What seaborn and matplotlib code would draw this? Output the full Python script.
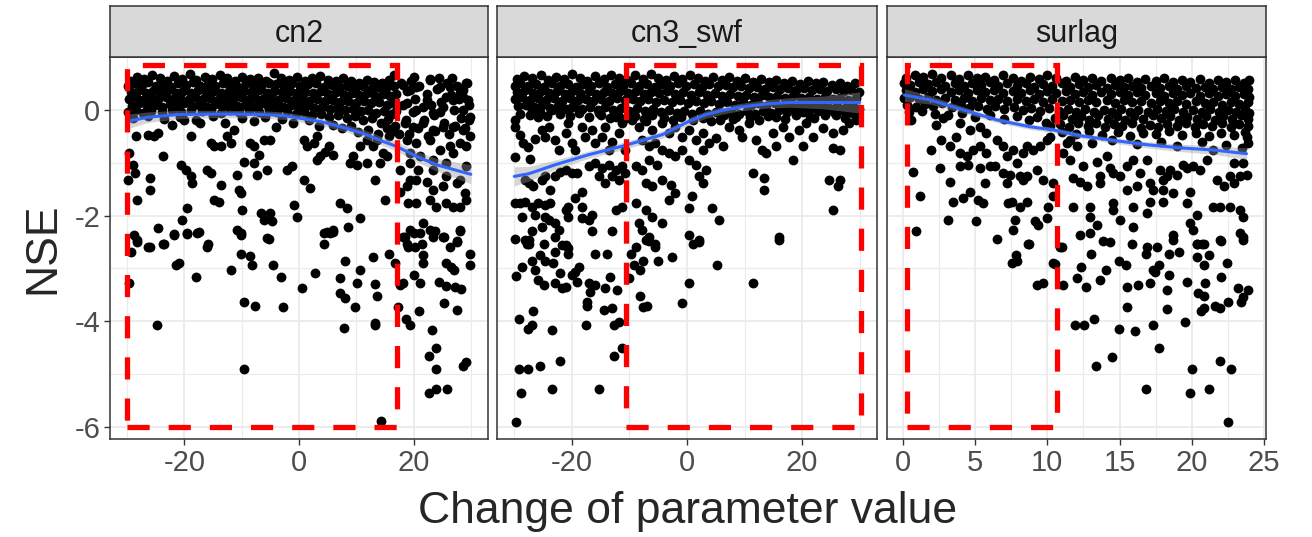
import pandas as pd
import matplotlib
matplotlib.use("Agg")
import matplotlib.pyplot as plt
from matplotlib.patches import Rectangle
import seaborn as sns

# ---- values -----------------------------------------------------------------
panels = ["cn2", "cn3_swf", "surlag"]

# cn2: dense band of runs near the top
cn2_band = [
    (-29.5, 0.55), (-28.2, 0.63), (-27.0, 0.58), (-25.6, 0.66), (-24.3, 0.6), (-23.1, 0.55), (-21.8, 0.64),
    (-20.4, 0.59), (-19.0, 0.67), (-17.9, 0.56), (-16.5, 0.62), (-15.2, 0.58), (-13.8, 0.65), (-12.6, 0.6),
    (-11.1, 0.54), (-9.9, 0.63), (-8.6, 0.58), (-7.2, 0.6), (-5.8, 0.55), (-4.3, 0.69), (-3.1, 0.6),
    (-1.7, 0.57), (-0.4, 0.63), (1.0, 0.55), (2.3, 0.6), (3.7, 0.64), (5.0, 0.57), (6.4, 0.54), (7.7, 0.6),
    (9.1, 0.55), (10.4, 0.5), (11.8, 0.56), (13.1, 0.52), (14.5, 0.5), (15.8, 0.57), (16.6, 0.66),
    (-29.8, 0.45), (-28.8, 0.5), (-27.5, 0.47), (-26.3, 0.52), (-25.0, 0.45), (-23.7, 0.49), (-22.4, 0.44),
    (-21.1, 0.5), (-19.8, 0.47), (-18.5, 0.52), (-17.2, 0.45), (-15.9, 0.49), (-14.6, 0.46), (-13.3, 0.51),
    (-12.0, 0.47), (-10.7, 0.44), (-9.3, 0.5), (-8.0, 0.47), (-6.6, 0.45), (-5.3, 0.51), (-4.0, 0.48),
    (-2.6, 0.46), (-1.2, 0.5), (0.2, 0.45), (1.6, 0.48), (3.0, 0.5), (4.3, 0.44), (5.7, 0.47), (7.1, 0.43),
    (8.4, 0.46), (9.8, 0.42), (11.1, 0.45), (12.5, 0.4), (13.8, 0.44), (15.2, 0.41), (16.5, 0.45),
    (-29.3, 0.33), (-28.0, 0.37), (-26.8, 0.32), (-25.5, 0.36), (-24.1, 0.34), (-22.9, 0.38), (-21.5, 0.32),
    (-20.2, 0.35), (-18.9, 0.31), (-17.6, 0.37), (-16.3, 0.33), (-14.9, 0.36), (-13.6, 0.32), (-12.3, 0.35),
    (-11.0, 0.31), (-9.6, 0.36), (-8.3, 0.33), (-7.0, 0.37), (-5.6, 0.32), (-4.3, 0.35), (-3.0, 0.33),
    (-1.6, 0.36), (-0.3, 0.31), (1.1, 0.34), (2.4, 0.31), (3.8, 0.35), (5.1, 0.3), (6.5, 0.33), (7.8, 0.29),
    (9.2, 0.32), (10.5, 0.28), (11.9, 0.31), (13.2, 0.27), (14.6, 0.3), (15.9, 0.26), (16.9, 0.3),
    (-29.6, 0.2), (-28.4, 0.24), (-27.2, 0.19), (-25.9, 0.23), (-24.6, 0.21), (-23.3, 0.25), (-22.0, 0.2),
    (-20.7, 0.23), (-19.4, 0.19), (-18.1, 0.24), (-16.8, 0.21), (-15.5, 0.23), (-14.1, 0.19), (-12.8, 0.22),
    (-11.5, 0.2), (-10.2, 0.24), (-8.9, 0.19), (-7.6, 0.22), (-6.2, 0.2), (-4.9, 0.23), (-3.6, 0.19),
    (-2.2, 0.22), (-0.9, 0.18), (0.5, 0.21), (1.8, 0.17), (3.2, 0.2), (4.5, 0.16), (5.9, 0.19), (7.2, 0.15),
    (8.6, 0.17), (9.9, 0.13), (11.3, 0.16), (12.6, 0.12), (14.0, 0.14), (15.3, 0.1), (16.6, 0.13),
    (-29.2, 0.08), (-27.9, 0.12), (-26.6, 0.07), (-25.2, 0.1), (-23.9, 0.06), (-22.6, 0.11), (-21.3, 0.08),
    (-20.0, 0.12), (-18.7, 0.07), (-17.4, 0.1), (-16.0, 0.06), (-14.7, 0.11), (-13.4, 0.08), (-12.1, 0.12),
    (-10.8, 0.07), (-9.4, 0.1), (-8.1, 0.06), (-6.8, 0.11), (-5.4, 0.08), (-4.1, 0.1), (-2.8, 0.06),
    (-1.4, 0.09), (-0.1, 0.05), (1.3, 0.08), (2.7, 0.03), (4.0, 0.06), (5.4, 0.01), (6.7, 0.04), (8.1, 0.0),
    (9.4, 0.02), (10.8, -0.03), (12.1, 0.0), (13.5, -0.06), (14.8, -0.03), (16.2, -0.08), (17.0, -0.02),
    (-29.8, -0.05), (-28.5, 0.0), (-27.3, -0.06), (-25.8, -0.02), (-24.0, -0.04), (-22.2, 0.0), (-20.6, -0.05),
    (-18.9, -0.01), (-17.0, -0.03), (-15.3, 0.0), (-13.7, -0.06), (-12.0, -0.01), (-10.4, -0.04), (-8.7, 0.0),
    (-7.0, -0.05), (-5.3, -0.01), (-3.8, -0.04), (-2.1, -0.02), (-0.6, -0.07), (0.9, -0.04), (2.3, -0.1),
    (3.8, -0.07), (5.2, -0.13), (6.8, -0.1), (8.3, -0.16), (9.7, -0.12), (11.2, -0.2), (12.8, -0.15),
    (14.3, -0.24), (15.6, -0.18), (16.8, -0.3),
    (-29.0, -0.15), (-26.4, -0.12), (-23.5, -0.18), (-20.8, -0.14), (-18.0, -0.2), (-15.1, -0.12),
    (-12.9, -0.25), (-10.0, -0.15), (-7.8, -0.22), (-5.9, -0.13), (-3.0, -0.18), (-1.0, -0.24), (1.7, -0.2),
    (3.5, -0.3), (5.9, -0.28), (7.5, -0.35), (9.0, -0.3), (10.3, -0.42), (12.0, -0.38), (13.8, -0.45),
    (15.8, -0.5), (16.4, -0.4),
    (17.8, 0.5), (18.9, 0.35), (19.5, 0.55), (20.3, 0.2), (21.0, 0.45), (21.6, 0.05), (22.4, 0.3),
    (22.9, 0.58), (23.5, -0.1), (24.1, 0.4), (24.8, 0.15), (25.3, -0.25), (25.9, 0.5), (26.5, 0.28),
    (27.0, 0.0), (27.6, 0.45), (28.2, -0.15), (28.7, 0.25), (29.3, 0.5), (29.7, 0.1), (18.2, 0.1),
    (18.6, -0.2), (19.9, -0.05), (20.7, -0.35), (21.9, -0.2), (23.0, 0.1), (23.8, -0.4), (24.6, -0.05),
    (25.6, 0.25), (26.2, -0.45), (27.2, -0.3), (28.0, 0.2), (29.0, -0.35), (29.6, -0.2), (17.5, -0.45),
    (19.2, -0.45), (22.6, -0.5), (26.8, 0.6), (28.6, 0.38), (20.0, 0.62), (24.4, 0.6),
]

# cn2: runs spread below the band
cn2_scatter = [
    (-29.6, -0.82), (-28.5, -0.5), (-29.0, -1.04), (-28.6, -1.2), (-29.9, -1.33), (-28.2, -1.7),
    (-28.8, -2.37), (-28.2, -2.46), (-26.4, -0.47), (-25.3, -0.5), (-24.7, -0.44), (-23.8, -0.88),
    (-26.1, -1.29), (-26.0, -1.52), (-24.7, -2.24), (-26.4, -2.59), (-23.5, -2.53), (-21.8, -2.37),
    (-20.4, -2.08), (-19.5, -1.86), (-20.6, -1.04), (-19.7, -1.14), (-18.9, -1.26), (-18.6, -1.39),
    (-19.5, -2.34), (-17.8, -2.34), (-16.0, -2.59), (-22.1, -0.28), (-20.1, -0.19), (-18.9, -0.5),
    (-17.2, -0.25), (-15.4, -0.63), (-14.8, -0.69), (-13.7, -0.69), (-16.0, -1.14), (-15.4, -1.2),
    (-14.8, -1.7), (-13.9, -1.74), (-13.7, -1.42), (-12.5, -0.5), (-11.4, -0.38), (-11.9, -0.63),
    (-10.8, -1.23), (-10.5, -1.52), (-10.2, -1.58), (-9.9, -1.89), (-10.8, -2.27), (-10.2, -2.34),
    (-9.6, -0.98), (-8.5, -0.63), (-7.9, -0.69), (-7.0, -0.85), (-6.1, -0.57), (-5.0, -0.57), (-4.1, -0.32),
    (-7.9, -1.01), (-7.3, -1.23), (-5.6, -1.14), (-6.7, -1.96), (-6.1, -2.08), (-5.0, -1.96), (-4.7, -2.1),
    (-5.6, -2.43), (-2.1, -1.14), (-1.2, -1.07), (-0.9, -1.8), (-0.35, -2.02), (0.8, -1.33), (2.0, -1.48),
    (0.8, -0.57), (1.4, -0.69), (2.6, -0.63), (3.1, -0.5), (3.7, -0.88), (4.6, -0.79), (5.2, -0.69),
    (6.0, -0.85), (3.1, -0.95), (4.3, -2.34), (5.4, -2.34), (6.0, -2.27), (7.2, -1.77), (8.3, -1.86),
    (8.6, -2.21), (10.7, -2.05), (8.9, -1.01), (9.5, -0.88), (10.1, -1.04), (11.8, -1.01), (13.3, -1.33),
    (14.1, -1.01), (14.7, -0.82), (15.3, -0.88), (10.7, -0.69), (13.0, -0.69), (15.0, -1.7), (15.3, -0.35),
    (13.6, -0.57), (11.8, -0.57),
    (18.2, 0.47), (19.4, 0.38), (20.5, 0.44), (22.8, 0.57), (24.6, 0.44), (26.3, 0.44), (28.1, 0.32),
    (29.2, 0.5), (29.5, 0.19), (29.8, -0.13), (18.8, 0.13), (20.5, 0.0), (22.3, 0.19), (23.4, -0.06),
    (25.2, 0.06), (26.9, 0.19), (28.6, 0.0), (18.5, -0.25), (19.9, -0.32), (21.7, -0.25), (23.4, -0.38),
    (25.2, -0.32), (26.9, -0.32), (28.6, -0.38), (29.8, -0.5), (18.8, -0.57), (20.5, -0.63), (22.8, -0.57),
    (24.6, -0.76), (26.3, -0.69), (28.1, -0.63), (29.2, -0.69), (19.4, -0.82), (21.1, -0.88), (23.4, -0.95),
    (25.7, -1.01), (26.9, -0.82), (29.2, -1.07), (17.6, -1.14), (19.4, -1.01), (20.8, -1.14), (23.4, -1.14),
    (25.7, -1.26), (28.1, -1.33), (19.4, -1.33), (20.5, -1.33), (22.3, -1.36), (23.4, -1.52), (25.2, -1.45),
    (27.5, -1.39), (28.9, -1.58), (29.2, -1.7), (28.1, -1.83), (18.8, -1.45), (17.6, -1.55), (20.5, -1.77),
    (19.1, -1.77), (22.8, -1.7), (24.0, -1.83), (25.7, -1.77), (26.9, -1.83), (21.7, -2.15), (22.8, -2.27),
    (19.4, -2.27), (21.1, -2.34), (23.4, -2.4), (25.2, -2.4), (27.5, -2.49), (28.1, -2.27), (18.2, -2.4),
    (18.8, -2.53), (20.2, -2.59),
    (-28.2, -2.51), (-26.1, -2.59), (-23.8, -2.54), (-21.8, -2.35), (-19.5, -2.35), (-17.4, -2.32),
    (-15.9, -2.54), (-29.4, -2.7), (-29.6, -3.27), (-24.8, -4.08), (-21.5, -2.94), (-20.9, -2.89),
    (-18.0, -3.16), (-11.8, -3.03), (-10.2, -2.73), (-8.5, -2.76), (-8.2, -2.94), (-10.2, -2.37),
    (-5.3, -2.44), (-4.5, -2.94), (-3.2, -3.16), (-9.6, -3.64), (-7.6, -3.71), (-2.8, -3.74), (-9.6, -4.91),
    (0.5, -3.38), (2.8, -3.09), (4.3, -2.54), (4.9, -2.32), (6.0, -2.32), (8.1, -2.87), (7.1, -3.19),
    (7.1, -3.46), (8.1, -3.56), (7.8, -4.13), (10.6, -3.03), (10.2, -3.28), (9.7, -3.74), (12.9, -2.79),
    (13.3, -3.29), (13.7, -3.52), (13.3, -4.03), (13.3, -4.07), (14.3, -5.89), (15.7, -2.73), (16.8, -2.89),
    (17.6, -3.31), (18.2, -3.28), (17.3, -3.74), (18.7, -3.95), (19.4, -4.07), (18.5, -2.41), (19.1, -2.59),
    (20.0, -2.34), (21.4, -2.54), (21.7, -2.75), (21.6, -2.89), (20.0, -3.12), (21.1, -3.27), (21.0, -3.8),
    (23.2, -4.17), (23.9, -4.51), (22.7, -4.66), (23.9, -4.91), (22.7, -5.35), (23.9, -5.29), (25.9, -5.29),
    (23.7, -2.3), (25.4, -2.41), (26.3, -2.59), (27.6, -2.51), (28.1, -2.3), (29.8, -2.73), (29.8, -2.94),
    (25.6, -2.9), (26.6, -2.98), (27.0, -3.04), (24.5, -3.25), (25.6, -3.33), (27.3, -3.35), (28.3, -3.4),
    (25.3, -3.65), (27.6, -3.78), (28.7, -4.85), (29.2, -4.77),
]

cn3_band = [
    (-29.6, 0.58), (-28.3, 0.64), (-26.9, 0.6), (-25.4, 0.66), (-24.1, 0.57), (-22.8, 0.63), (-21.3, 0.59),
    (-20.0, 0.67), (-18.6, 0.6), (-17.3, 0.55), (-15.9, 0.64), (-14.5, 0.58), (-13.2, 0.66), (-11.8, 0.61),
    (-10.4, 0.56), (-9.1, 0.65), (-7.7, 0.59), (-6.3, 0.68), (-5.0, 0.6), (-3.6, 0.56), (-2.2, 0.64),
    (-0.9, 0.58), (0.5, 0.66), (1.9, 0.6), (3.2, 0.55), (4.6, 0.63), (6.0, 0.57), (7.3, 0.62), (8.7, 0.55),
    (10.1, 0.6), (11.4, 0.53), (12.8, 0.58), (14.2, 0.52), (15.5, 0.57), (16.9, 0.5), (18.3, 0.55),
    (19.6, 0.49), (21.0, 0.54), (22.4, 0.5), (23.7, 0.53), (25.1, 0.47), (26.5, 0.51), (27.8, 0.46), (29.2, 0.5),
    (-29.9, 0.45), (-29.0, 0.5), (-27.6, 0.46), (-26.2, 0.49), (-24.8, 0.44), (-23.5, 0.5), (-22.1, 0.45),
    (-20.7, 0.48), (-19.3, 0.43), (-18.0, 0.49), (-16.6, 0.46), (-15.2, 0.5), (-13.9, 0.44), (-12.5, 0.48),
    (-11.1, 0.45), (-9.8, 0.5), (-8.4, 0.46), (-7.0, 0.49), (-5.6, 0.44), (-4.3, 0.48), (-2.9, 0.45),
    (-1.5, 0.5), (-0.2, 0.46), (1.2, 0.48), (2.6, 0.44), (3.9, 0.49), (5.3, 0.45), (6.7, 0.47), (8.0, 0.43),
    (9.4, 0.46), (10.8, 0.41), (12.1, 0.44), (13.5, 0.4), (14.9, 0.43), (16.2, 0.39), (17.6, 0.42),
    (19.0, 0.38), (20.3, 0.41), (21.7, 0.37), (23.1, 0.4), (24.4, 0.36), (25.8, 0.39), (27.2, 0.35),
    (28.5, 0.38), (29.8, 0.34),
    (-29.5, 0.33), (-28.1, 0.37), (-26.7, 0.32), (-25.3, 0.36), (-24.0, 0.31), (-22.6, 0.35), (-21.2, 0.3),
    (-19.9, 0.36), (-18.5, 0.32), (-17.1, 0.35), (-15.8, 0.3), (-14.4, 0.34), (-13.0, 0.31), (-11.6, 0.36),
    (-10.3, 0.32), (-8.9, 0.35), (-7.5, 0.3), (-6.2, 0.34), (-4.8, 0.31), (-3.4, 0.35), (-2.1, 0.3),
    (-0.7, 0.33), (0.7, 0.29), (2.0, 0.33), (3.4, 0.28), (4.8, 0.31), (6.1, 0.27), (7.5, 0.3), (8.9, 0.26),
    (10.2, 0.29), (11.6, 0.25), (13.0, 0.28), (14.3, 0.24), (15.7, 0.27), (17.1, 0.23), (18.4, 0.26),
    (19.8, 0.22), (21.2, 0.25), (22.5, 0.21), (23.9, 0.24), (25.3, 0.2), (26.6, 0.23), (28.0, 0.19), (29.4, 0.22),
    (-29.8, 0.2), (-28.6, 0.24), (-27.2, 0.19), (-25.8, 0.23), (-24.5, 0.18), (-23.1, 0.22), (-21.7, 0.17),
    (-20.4, 0.23), (-19.0, 0.19), (-17.6, 0.21), (-16.3, 0.16), (-14.9, 0.2), (-13.5, 0.17), (-12.2, 0.22),
    (-10.8, 0.18), (-9.4, 0.21), (-8.1, 0.16), (-6.7, 0.2), (-5.3, 0.15), (-4.0, 0.19), (-2.6, 0.14),
    (-1.2, 0.18), (0.1, 0.13), (1.5, 0.17), (2.9, 0.12), (4.2, 0.16), (5.6, 0.11), (7.0, 0.15), (8.3, 0.1),
    (9.7, 0.14), (11.1, 0.09), (12.4, 0.13), (13.8, 0.08), (15.2, 0.12), (16.5, 0.07), (17.9, 0.11),
    (19.3, 0.06), (20.6, 0.1), (22.0, 0.05), (23.4, 0.09), (24.7, 0.04), (26.1, 0.08), (27.5, 0.03),
    (28.8, 0.07), (29.9, 0.02),
    (-29.4, 0.07), (-28.0, 0.1), (-26.5, 0.05), (-25.1, 0.09), (-23.8, 0.03), (-22.4, 0.08), (-21.0, 0.02),
    (-19.6, 0.07), (-18.3, 0.01), (-16.9, 0.06), (-15.5, 0.0), (-14.2, 0.05), (-12.8, -0.01), (-11.4, 0.04),
    (-10.0, -0.02), (-8.7, 0.03), (-7.3, -0.03), (-5.9, 0.02), (-4.6, -0.04), (-3.2, 0.0), (-1.8, -0.06),
    (-0.5, -0.02), (0.9, -0.07), (2.3, -0.03), (3.6, -0.08), (5.0, -0.04), (6.4, -0.1), (7.7, -0.05),
    (9.1, -0.08), (10.5, -0.03), (11.8, -0.07), (13.2, -0.02), (14.6, -0.06), (16.0, -0.01), (17.3, -0.05),
    (18.7, 0.0), (20.1, -0.04), (21.4, 0.01), (22.8, -0.03), (24.2, 0.0), (25.5, -0.05), (26.9, -0.01),
    (28.3, -0.04), (29.6, 0.0),
    (-29.0, -0.08), (-27.3, -0.1), (-25.6, -0.05), (-24.3, -0.12), (-22.0, -0.08), (-20.3, -0.11),
    (-18.8, -0.06), (-17.0, -0.14), (-15.0, -0.1), (-13.4, -0.16), (-11.9, -0.09), (-10.6, -0.15),
    (-9.0, -0.12), (-7.5, -0.18), (-6.0, -0.1), (-4.0, -0.16), (-2.5, -0.2), (-1.0, -0.14), (1.0, -0.2),
    (2.8, -0.16), (4.2, -0.22), (5.8, -0.2), (8.0, -0.18), (11.0, -0.14), (12.5, -0.2), (14.0, -0.12),
    (17.0, -0.18), (19.0, -0.1), (22.0, -0.15), (24.0, -0.1), (27.5, -0.16), (29.0, -0.08),
]

cn3_scatter = [
    (-29.8, -0.19), (-29.9, -0.33), (-29.9, -0.9), (-29.0, -0.47), (-27.6, -0.71), (-27.2, -0.93),
    (-28.4, -0.63), (-26.4, -0.56), (-25.8, -0.13), (-25.2, -0.38), (-24.6, -0.51), (-24.0, -0.32),
    (-22.9, -0.57), (-22.3, -0.76), (-21.1, -0.44), (-20.6, -0.25), (-20.0, -0.63), (-19.4, -0.76),
    (-18.2, -0.32), (-17.7, -0.51), (-16.5, -0.38), (-15.9, -0.63), (-14.8, -0.51), (-14.2, -0.32),
    (-13.6, -0.76), (-13.0, -0.6), (-11.8, -0.44), (-11.3, -0.25), (-10.7, -0.76), (-26.9, 0.0), (-23.5, 0.0),
    (-20.0, 0.06), (-15.3, -0.06), (-12.4, -0.13),
    (-27.5, -1.39), (-28.1, -1.33), (-26.7, -1.45), (-25.2, -1.33), (-24.6, -1.26), (-23.8, -1.52),
    (-22.9, -1.26), (-22.0, -1.17), (-21.1, -1.14), (-20.0, -1.2), (-19.1, -1.2), (-18.2, -1.55),
    (-17.1, -1.07), (-15.9, -1.01), (-14.8, -1.1), (-13.6, -1.04), (-12.4, -1.14), (-11.3, -1.07),
    (-15.3, -1.26), (-14.2, -1.39), (-13.0, -1.26), (-11.8, -1.33), (-10.7, -1.2),
    (-29.8, -1.77), (-29.0, -1.77), (-28.1, -1.74), (-26.9, -1.83), (-25.8, -1.77), (-24.6, -1.8),
    (-23.8, -1.77), (-20.6, -1.83), (-19.4, -1.67), (-18.2, -1.83), (-28.7, -2.02), (-26.4, -1.99),
    (-24.6, -2.02), (-22.9, -2.15), (-22.3, -2.27), (-25.2, -2.21), (-21.1, -1.89), (-20.6, -2.02),
    (-18.2, -2.05), (-16.5, -1.99), (-12.4, -1.89), (-11.3, -1.83), (-16.5, -2.3), (-17.1, -2.08),
    (-13.0, -2.3), (-24.0, -2.08), (-29.9, -2.45), (-28.1, -2.46), (-27.5, -2.53), (-24.9, -2.53),
    (-22.9, -2.4), (-21.7, -2.56), (-20.6, -2.62), (-26.9, -2.3),
    (-9.5, -0.19), (-8.4, -0.32), (-7.2, -0.22), (-6.0, -0.38), (-4.3, -0.25), (-3.1, -0.44), (-2.0, -0.32),
    (-0.8, -0.51), (0.3, -0.38), (1.5, -0.57), (2.7, -0.44), (3.8, -0.63), (5.0, -0.54), (6.2, -0.69),
    (-7.8, -0.57), (-6.6, -0.69), (-5.5, -0.63), (-4.3, -0.76), (-3.1, -0.82), (-2.0, -0.88), (-0.8, -0.76),
    (0.3, -0.95), (1.5, -1.04), (3.3, -1.14), (-8.9, -1.07), (-7.8, -1.14), (-6.6, -0.95), (-5.2, -1.04),
    (-7.2, -1.39), (-6.0, -1.45), (-4.3, -1.33), (-2.8, -1.42), (-2.0, -1.58), (-3.1, -1.7), (2.1, -1.26),
    (2.7, -1.39), (0.9, -1.64), (0.3, -1.86), (-8.9, -1.77), (-7.2, -1.89), (-6.0, -2.02), (-4.3, -2.15),
    (-8.4, -2.15), (-7.8, -2.27), (-6.6, -2.4), (-5.5, -2.53), (0.3, -2.37), (2.1, -2.46), (4.4, -1.86),
    (5.6, -2.08), (2.7, -0.76),
    (7.3, -0.32), (9.1, -0.38), (10.8, -0.25), (12.0, -0.57), (13.1, -0.76), (14.9, -0.44), (16.6, -0.32),
    (17.8, -0.51), (18.4, -0.95), (19.5, -0.38), (20.7, -0.25), (21.8, -0.51), (23.6, -0.35), (25.3, -0.44),
    (27.1, -0.38), (28.2, -0.25), (29.4, -0.19), (25.3, -0.73), (26.5, -0.76), (15.4, -0.69), (13.7, -0.82),
    (20.1, -0.69), (9.6, -0.51), (11.4, -1.2), (13.4, -1.29), (13.4, -1.52), (16.0, -2.4), (24.7, -1.33),
    (26.5, -1.33), (26.2, -1.45), (25.3, -1.89), (6.2, -0.06), (8.5, -0.13), (15.4, -0.13), (21.3, -0.13),
    (25.9, -0.09),
    (-27.8, -2.54), (-27.5, -2.46), (-21.1, -2.56), (-20.6, -2.73), (-25.5, -2.75), (-24.6, -2.87),
    (-23.2, -2.9), (-22.9, -2.7), (-26.9, -2.87), (-26.4, -3.03), (-28.7, -2.97), (-29.7, -3.14),
    (-22.0, -3.09), (-25.8, -3.22), (-24.9, -3.31), (-22.9, -3.28), (-21.1, -3.35), (-21.7, -3.38),
    (-20.0, -3.13), (-19.4, -3.06), (-18.8, -2.97), (-19.1, -3.25), (-15.9, -2.73), (-13.9, -2.73),
    (-17.1, -3.28), (-15.9, -3.31), (-16.8, -3.44), (-17.4, -3.63), (-17.4, -3.72), (-14.2, -3.38),
    (-14.5, -3.78), (-13.0, -3.75), (-13.3, -3.16), (-12.1, -3.41), (-26.7, -3.8), (-29.2, -3.96),
    (-27.6, -4.14), (-26.9, -4.07), (-23.5, -4.17), (-17.5, -4.08), (-12.7, -4.07), (-11.8, -4.01),
    (-11.3, -4.51), (-12.7, -4.66), (-29.2, -4.91), (-27.6, -4.91), (-25.5, -4.85), (-22.1, -4.75),
    (-28.9, -5.35), (-23.5, -5.28), (-15.2, -5.28), (-29.7, -5.9), (-10.1, -3.19), (-9.8, -2.73),
    (-9.2, -2.94), (-8.1, -3.03), (-7.6, -2.87), (-8.9, -2.59), (-7.2, -2.46), (-6.6, -2.49), (-5.5, -2.59),
    (-5.0, -2.87), (-2.6, -2.78), (-8.2, -3.52), (-7.6, -3.74), (-6.9, -3.71), (-0.8, -3.65), (0.3, -3.28),
    (5.2, -2.94), (1.0, -2.54), (2.1, -2.51), (11.4, -3.28), (15.9, -2.46),
]

surlag_band = [
    (0.2, 0.6), (0.8, 0.66), (1.4, 0.62), (2.0, 0.68), (2.6, 0.6), (3.3, 0.65), (3.9, 0.58), (4.5, 0.66),
    (5.1, 0.6), (5.7, 0.63), (6.3, 0.57), (6.9, 0.65), (7.6, 0.6), (8.2, 0.55), (8.8, 0.63), (9.4, 0.58),
    (10.0, 0.66), (10.6, 0.6), (11.3, 0.55), (11.9, 0.62), (12.5, 0.57), (13.1, 0.6), (13.7, 0.54),
    (14.4, 0.61), (15.0, 0.56), (15.6, 0.6), (16.2, 0.53), (16.8, 0.59), (17.5, 0.55), (18.1, 0.6),
    (18.7, 0.52), (19.3, 0.57), (19.9, 0.53), (20.6, 0.58), (21.2, 0.5), (21.8, 0.56), (22.4, 0.52),
    (23.0, 0.57), (23.6, 0.5), (24.0, 0.56),
    (0.1, 0.5), (0.5, 0.47), (1.1, 0.52), (1.7, 0.48), (2.3, 0.53), (2.9, 0.46), (3.6, 0.5), (4.2, 0.45),
    (4.8, 0.51), (5.4, 0.47), (6.0, 0.52), (6.6, 0.45), (7.2, 0.5), (7.9, 0.46), (8.5, 0.5), (9.1, 0.44),
    (9.7, 0.49), (10.3, 0.45), (11.0, 0.5), (11.6, 0.44), (12.2, 0.48), (12.8, 0.43), (13.4, 0.47),
    (14.1, 0.42), (14.7, 0.47), (15.3, 0.43), (15.9, 0.46), (16.5, 0.41), (17.2, 0.46), (17.8, 0.42),
    (18.4, 0.45), (19.0, 0.4), (19.6, 0.45), (20.3, 0.41), (20.9, 0.44), (21.5, 0.39), (22.1, 0.43),
    (22.7, 0.4), (23.3, 0.44), (23.9, 0.4),
    (0.2, 0.38), (0.8, 0.34), (1.4, 0.39), (2.0, 0.35), (2.6, 0.4), (3.3, 0.33), (3.9, 0.37), (4.5, 0.32),
    (5.1, 0.38), (5.7, 0.33), (6.3, 0.37), (6.9, 0.31), (7.6, 0.36), (8.2, 0.32), (8.8, 0.37), (9.4, 0.3),
    (10.0, 0.35), (10.6, 0.31), (11.3, 0.36), (11.9, 0.3), (12.5, 0.34), (13.1, 0.29), (13.7, 0.34),
    (14.4, 0.3), (15.0, 0.33), (15.6, 0.28), (16.2, 0.33), (16.8, 0.29), (17.5, 0.32), (18.1, 0.27),
    (18.7, 0.32), (19.3, 0.28), (19.9, 0.31), (20.6, 0.26), (21.2, 0.31), (21.8, 0.27), (22.4, 0.3),
    (23.0, 0.26), (23.6, 0.3), (24.0, 0.25),
    (0.1, 0.22), (0.5, 0.25), (1.1, 0.2), (1.7, 0.24), (2.3, 0.19), (2.9, 0.23), (3.6, 0.18), (4.2, 0.22),
    (4.8, 0.17), (5.4, 0.23), (6.0, 0.18), (6.6, 0.21), (7.2, 0.16), (7.9, 0.21), (8.5, 0.17), (9.1, 0.2),
    (9.7, 0.15), (10.3, 0.2), (11.0, 0.16), (11.6, 0.19), (12.2, 0.14), (12.8, 0.19), (13.4, 0.15),
    (14.1, 0.18), (14.7, 0.13), (15.3, 0.18), (15.9, 0.14), (16.5, 0.17), (17.2, 0.12), (17.8, 0.17),
    (18.4, 0.13), (19.0, 0.16), (19.6, 0.11), (20.3, 0.16), (20.9, 0.12), (21.5, 0.15), (22.1, 0.1),
    (22.7, 0.15), (23.3, 0.11), (23.9, 0.14),
    (0.3, 0.1), (0.9, 0.06), (1.5, 0.11), (2.1, 0.07), (2.7, 0.12), (3.4, 0.05), (4.0, 0.09), (4.6, 0.04),
    (5.2, 0.08), (5.8, 0.02), (6.4, 0.07), (7.0, 0.01), (7.7, 0.05), (8.3, 0.0), (8.9, 0.04), (9.5, -0.02),
    (10.1, 0.03), (10.8, -0.03), (11.4, 0.02), (12.0, -0.04), (12.6, 0.01), (13.2, -0.05), (13.9, 0.0),
    (14.5, -0.04), (15.1, 0.01), (15.7, -0.05), (16.3, 0.0), (17.0, -0.04), (17.6, 0.02), (18.2, -0.03),
    (18.8, 0.01), (19.4, -0.05), (20.1, 0.0), (20.7, -0.04), (21.3, 0.01), (21.9, -0.05), (22.5, 0.0),
    (23.1, -0.04), (23.7, 0.01), (24.0, -0.06),
    (0.4, -0.05), (1.3, -0.02), (2.2, -0.08), (3.1, -0.1), (4.1, -0.06), (5.0, -0.14), (6.0, -0.1),
    (7.0, -0.18), (7.9, -0.12), (8.7, -0.2), (9.3, -0.13), (9.9, -0.24), (10.5, -0.15), (11.1, -0.1),
    (11.7, -0.18), (12.3, -0.12), (12.9, -0.2), (13.5, -0.1), (14.2, -0.17), (14.8, -0.11), (15.4, -0.19),
    (16.0, -0.12), (16.6, -0.18), (17.3, -0.1), (17.9, -0.16), (18.5, -0.12), (19.1, -0.2), (19.7, -0.13),
    (20.4, -0.18), (21.0, -0.11), (21.6, -0.19), (22.2, -0.12), (22.8, -0.17), (23.4, -0.1), (23.9, -0.18),
    (10.2, -0.3), (10.9, -0.26), (11.5, -0.32), (12.1, -0.25), (12.8, -0.3), (13.4, -0.24), (14.0, -0.33),
    (14.6, -0.27), (15.2, -0.31), (15.9, -0.25), (16.5, -0.34), (17.1, -0.28), (17.7, -0.32), (18.3, -0.26),
    (19.0, -0.3), (19.6, -0.24), (20.2, -0.33), (20.8, -0.27), (21.4, -0.31), (22.1, -0.25), (22.7, -0.32),
    (23.3, -0.27), (23.9, -0.3),
    (11.0, -0.42), (12.0, -0.45), (12.9, -0.4), (13.8, -0.47), (14.9, -0.42), (15.7, -0.5), (16.6, -0.43),
    (17.5, -0.46), (18.4, -0.4), (19.3, -0.48), (20.3, -0.43), (21.2, -0.5), (22.0, -0.44), (22.9, -0.47),
    (23.7, -0.42), (11.6, -0.58), (13.1, -0.62), (14.5, -0.57), (16.2, -0.65), (17.9, -0.6), (19.0, -0.68),
    (20.7, -0.6), (22.4, -0.66), (23.5, -0.72), (23.9, -0.62),
]

surlag_scatter = [
    (0.58, -0.19), (0.69, -1.17), (1.16, -1.64), (0.93, -2.3), (1.97, -0.76), (2.31, -0.28), (2.78, -0.16),
    (2.66, -0.57), (3.24, -0.69), (3.7, -0.51), (3.93, -0.82), (4.4, -0.88), (4.86, -0.76), (5.32, -0.69),
    (5.78, -0.82), (3.93, -0.25), (4.63, -0.38), (5.32, -0.32), (5.78, -0.44), (6.48, -0.57), (6.94, -0.69),
    (7.17, -0.88), (7.63, -0.76), (7.87, -1.01), (8.33, -0.82), (8.56, -0.69), (9.02, -0.76), (9.48, -0.69),
    (9.95, -0.57), (10.18, -0.51), (2.54, -1.1), (3.24, -1.36), (3.93, -1.07), (4.51, -1.04), (5.32, -1.1),
    (6.01, -1.07), (6.36, -1.07), (6.94, -1.2), (7.4, -1.23), (8.1, -1.26), (8.56, -1.26), (9.25, -1.14),
    (9.72, -1.33), (10.41, -1.39), (5.67, -1.39), (7.17, -1.39), (8.33, -1.33), (3.47, -1.74), (4.16, -1.67),
    (4.63, -1.55), (5.2, -1.7), (5.55, -1.77), (7.29, -1.77), (7.52, -1.74), (8.1, -1.83), (8.56, -1.74),
    (10.06, -1.83), (10.41, -1.64), (3.12, -2.08), (5.09, -2.11), (7.75, -2.08), (7.63, -2.27), (9.14, -2.11),
    (9.37, -2.18), (9.95, -2.05), (6.48, -2.45), (8.67, -2.53), (10.87, -2.59),
    (11.1, -0.82), (11.57, -0.95), (12.03, -0.69), (11.33, -0.63), (12.49, -1.07), (11.8, -1.29),
    (12.26, -1.36), (12.72, -1.45), (13.42, -0.98), (13.65, -1.26), (14.11, -0.88), (14.34, -1.1),
    (14.57, -1.2), (15.04, -1.26), (15.5, -1.07), (15.96, -0.95), (16.42, -1.2), (16.89, -0.95),
    (17.12, -1.39), (17.35, -1.52), (17.81, -1.14), (18.04, -1.33), (18.27, -1.26), (18.51, -1.14),
    (18.97, -1.23), (19.43, -1.04), (19.66, -1.1), (20.12, -1.07), (20.59, -1.14), (21.05, -0.95),
    (21.51, -0.76), (21.74, -1.33), (22.21, -1.45), (22.67, -1.26), (22.9, -1.39), (23.36, -1.26),
    (23.83, -1.23), (22.9, -1.01), (23.59, -1.01), (23.83, -0.51), (13.65, -1.39), (15.5, -1.52),
    (16.19, -1.45), (18.04, -1.52), (18.74, -1.58), (19.89, -1.55), (22.67, -1.83), (11.8, -1.83),
    (12.95, -1.83), (14.57, -1.77), (14.57, -1.89), (15.96, -1.83), (17.12, -1.74), (18.04, -1.74),
    (19.66, -1.77), (21.51, -1.83), (21.98, -1.83), (23.36, -1.89), (23.59, -2.02), (12.95, -2.02),
    (13.42, -2.18), (15.04, -2.08), (16.89, -1.96), (15.96, -2.21), (18.74, -2.37), (19.89, -2.15),
    (20.36, -1.99), (20.12, -2.27), (21.98, -2.46), (23.36, -2.34), (23.59, -2.4), (12.26, -2.37),
    (12.95, -2.34), (13.88, -2.49), (14.34, -2.51), (16.89, -2.59), (17.58, -2.59), (18.74, -2.46),
    (20.36, -2.53), (20.82, -2.53),
    (8.72, -2.54), (10.99, -2.6), (7.82, -2.75), (7.52, -2.9), (7.87, -2.87), (10.41, -2.9), (13.0, -2.73),
    (12.33, -2.97), (12.03, -3.19), (12.68, -3.35), (13.65, -3.22), (14.06, -3.03), (15.85, -2.54),
    (16.84, -2.73), (18.46, -2.73), (19.15, -2.7), (20.36, -2.78), (21.17, -2.75), (20.82, -2.94),
    (20.36, -2.54), (20.7, -2.54), (22.02, -2.49), (23.59, -2.46), (22.44, -2.89), (14.99, -2.87),
    (15.45, -2.94), (17.47, -3.06), (17.77, -2.94), (18.46, -3.13), (17.35, -3.03), (22.02, -3.16),
    (15.5, -3.35), (16.31, -3.31), (17.12, -3.28), (18.32, -3.41), (19.71, -3.26), (20.93, -3.28),
    (20.47, -3.47), (20.87, -3.52), (23.18, -3.38), (23.87, -3.41), (23.55, -3.55), (23.41, -3.64),
    (22.51, -3.64), (21.63, -3.71), (21.98, -3.75), (20.63, -3.8), (20.82, -3.75), (18.32, -3.77),
    (15.5, -3.74), (9.25, -3.31), (9.72, -3.28), (10.53, -2.92), (11.1, -3.31), (11.91, -4.08),
    (12.54, -4.08), (13.25, -3.96), (14.99, -4.15), (16.08, -4.18), (17.3, -4.08), (19.55, -4.02),
    (17.77, -4.51), (14.5, -4.67), (13.35, -4.85), (20.01, -4.91), (21.93, -4.75), (22.72, -4.91),
    (16.84, -5.28), (19.89, -5.35), (21.17, -5.28), (22.51, -5.9),
]

# loess fits (blue line) and half-width of their grey bands
cn2_fit_x = [-30, -26.4, -21.2, -16, -11.4, -6, -2.7, 0.2, 3.7, 8.3, 11.8, 14.7, 17, 20.5, 24, 30]
cn2_fit_y = [-0.22, -0.14, -0.09, -0.08, -0.08, -0.09, -0.11, -0.16, -0.22, -0.35, -0.47, -0.6, -0.69,
             -0.88, -1.04, -1.22]
cn2_fit_se = [0.14, 0.1, 0.08, 0.07, 0.07, 0.07, 0.07, 0.07, 0.07, 0.07, 0.08, 0.08, 0.09, 0.1, 0.12, 0.18]

cn3_fit_x = [-30, -27.5, -22.9, -17.1, -11.3, -8.4, -4.3, 0.3, 3.3, 6.2, 9.1, 13.7, 17.8, 23.6, 30]
cn3_fit_y = [-1.26, -1.21, -1.04, -0.85, -0.69, -0.6, -0.47, -0.22, -0.09, -0.01, 0.05, 0.11, 0.14, 0.14, 0.14]
cn3_fit_se = [0.18, 0.14, 0.09, 0.07, 0.07, 0.07, 0.07, 0.07, 0.07, 0.07, 0.07, 0.08, 0.09, 0.12, 0.2]

surlag_fit_x = [0.1, 1.85, 4.16, 6.48, 8.79, 10.4, 12.3, 14.6, 16.9, 19.2, 21.5, 23.8]
surlag_fit_y = [0.28, 0.19, 0.0, -0.19, -0.32, -0.38, -0.49, -0.58, -0.66, -0.72, -0.76, -0.83]
surlag_fit_se = [0.12, 0.08, 0.06, 0.05, 0.05, 0.05, 0.05, 0.05, 0.06, 0.07, 0.08, 0.11]

# red dashed windows
box_xmin = [-30, -10.6, 0.3]
box_xmax = [17.1, 30.2, 10.7]
box_ymin = -6.0
box_ymax = 0.85

y_ticks = [0, -2, -4, -6]
x_ticks = [[-20, 0, 20], [-20, 0, 20], [0, 5, 10, 15, 20, 25]]
x_minor = [[-30, -10, 10, 30], [-30, -10, 10, 30], [2.5, 7.5, 12.5, 17.5, 22.5]]
x_lims = [(-33, 33), (-33, 33), (-1.11, 25.15)]

# ---- build tables ------------------------------------------------------------
pts = pd.concat([
    pd.DataFrame(cn2_band + cn2_scatter, columns=["change", "nse"]).assign(param="cn2"),
    pd.DataFrame(cn3_band + cn3_scatter, columns=["change", "nse"]).assign(param="cn3_swf"),
    pd.DataFrame(surlag_band + surlag_scatter, columns=["change", "nse"]).assign(param="surlag"),
], ignore_index=True)

fits = {
    "cn2": pd.DataFrame({"x": cn2_fit_x, "y": cn2_fit_y, "se": cn2_fit_se}),
    "cn3_swf": pd.DataFrame({"x": cn3_fit_x, "y": cn3_fit_y, "se": cn3_fit_se}),
    "surlag": pd.DataFrame({"x": surlag_fit_x, "y": surlag_fit_y, "se": surlag_fit_se}),
}

# ---- plot --------------------------------------------------------------------
sns.set_style("white")
plt.rcParams["font.family"] = ["Liberation Sans", "DejaVu Sans"]
plt.rcParams["axes.unicode_minus"] = False

W, H = 1312, 537
fig = plt.figure(figsize=(W / 100, H / 100), dpi=100)


def px_box(l, t, r, b):
    return [l / W, 1 - b / H, (r - l) / W, (b - t) / H]


panel_px = [(110, 488), (497, 877), (887, 1266)]
p_top, p_bot, s_top = 57, 439, 6
edge = "#333333"

for i, name in enumerate(panels):
    l, r = panel_px[i]
    ax = fig.add_axes(px_box(l, p_top, r, p_bot))
    ax.set_axisbelow(True)

    sub = pts[pts["param"] == name]
    sns.scatterplot(data=sub, x="change", y="nse", color="black", s=50, linewidth=0,
                    ax=ax, legend=False, zorder=2)

    f = fits[name]
    ax.fill_between(f["x"], f["y"] - f["se"], f["y"] + f["se"], color="#999999", alpha=0.4,
                    linewidth=0, zorder=3)
    sns.lineplot(data=f, x="x", y="y", color="#3366FF", linewidth=2.2, ax=ax, zorder=4)

    ax.add_patch(Rectangle((box_xmin[i], box_ymin), box_xmax[i] - box_xmin[i], box_ymax - box_ymin,
                           fill=False, edgecolor="red", linewidth=3.8, linestyle=(0, (4.2, 3.6)),
                           zorder=5))

    ax.set_xlim(*x_lims[i])
    ax.set_ylim(-6.23, 1.0)
    ax.set_xticks(x_ticks[i])
    ax.set_xticklabels([str(v) for v in x_ticks[i]])
    ax.set_xticks(x_minor[i], minor=True)
    ax.set_yticks(y_ticks)
    ax.set_yticklabels([str(v) for v in y_ticks])
    ax.set_yticks([1, -1, -3, -5], minor=True)
    ax.grid(which="major", color="#EBEBEB", linewidth=1.3)
    ax.grid(which="minor", color="#EBEBEB", linewidth=0.8)
    ax.set_xlabel("")
    ax.set_ylabel("")
    ax.tick_params(which="major", length=4, width=1, color=edge, labelsize=21,
                   labelcolor="#4D4D4D", pad=3, direction="out")
    ax.tick_params(which="minor", length=0)
    ax.tick_params(axis="x", bottom=True)
    ax.tick_params(axis="y", left=(i == 0), labelleft=(i == 0))
    for sp in ax.spines.values():
        sp.set_color(edge)
        sp.set_linewidth(1.1)
        sp.set_visible(True)

    sax = fig.add_axes(px_box(l, s_top, r, p_top))
    sax.set_facecolor("#D9D9D9")
    sax.set_xticks([])
    sax.set_yticks([])
    for sp in sax.spines.values():
        sp.set_color(edge)
        sp.set_linewidth(1.1)
        sp.set_visible(True)
    sax.text(0.5, 0.46, name, ha="center", va="center", fontsize=22, color="#1A1A1A",
             transform=sax.transAxes)

fig.text(688 / W, 1 - 511 / H, "Change of parameter value", ha="center", va="center", fontsize=32)
fig.text(43 / W, 1 - 248 / H, "NSE", ha="center", va="center", rotation=90, fontsize=32)

fig.savefig("out.png", dpi=100)
